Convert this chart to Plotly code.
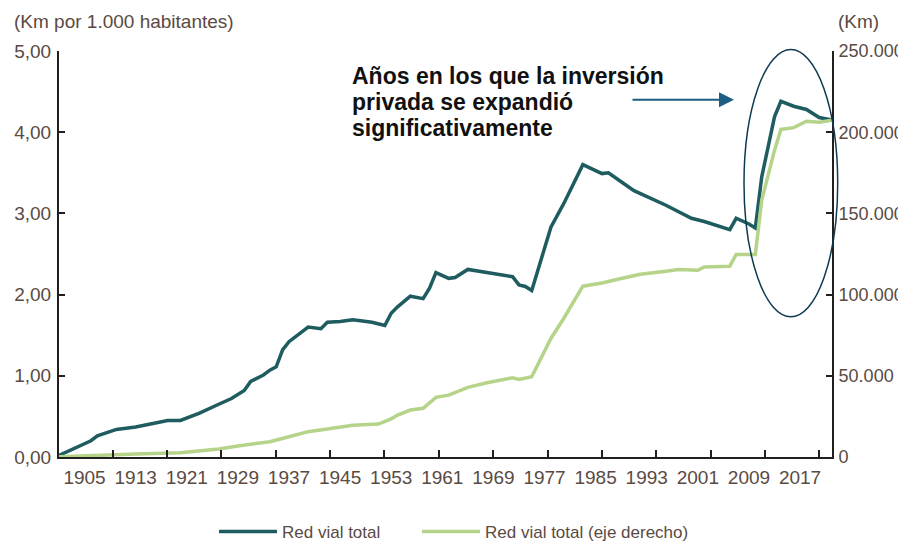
import plotly.graph_objects as go

# ---- data ----
years_dark = [1901, 1903, 1906, 1907, 1910, 1913, 1915, 1918, 1920, 1923, 1926, 1928,
              1930, 1931, 1933, 1934, 1935, 1936, 1937, 1939, 1940, 1942, 1943, 1945,
              1947, 1950, 1952, 1953, 1954, 1956, 1958, 1959, 1960, 1962, 1963, 1965,
              1972, 1973, 1974, 1975, 1978, 1980, 1983, 1986, 1987, 1989, 1991, 1996,
              1997, 2000, 2002, 2006, 2007, 2009, 2010, 2011, 2013, 2014, 2016, 2018,
              2020, 2022]
km_per_1000 = [0.02, 0.09, 0.20, 0.26, 0.34, 0.37, 0.40, 0.45, 0.45, 0.54, 0.65, 0.72,
               0.82, 0.93, 1.01, 1.07, 1.11, 1.32, 1.42, 1.54, 1.60, 1.58, 1.66, 1.67,
               1.69, 1.66, 1.62, 1.77, 1.85, 1.98, 1.95, 2.08, 2.27, 2.20, 2.21, 2.31,
               2.22, 2.12, 2.10, 2.05, 2.83, 3.12, 3.60, 3.49, 3.50, 3.39, 3.28, 3.10,
               3.06, 2.94, 2.90, 2.80, 2.94, 2.87, 2.82, 3.45, 4.19, 4.38, 4.32, 4.28,
               4.18, 4.15]

years_green = [1901, 1907, 1913, 1920, 1923, 1926, 1929, 1932, 1934, 1937, 1939, 1940,
               1943, 1947, 1951, 1953, 1954, 1956, 1958, 1960, 1962, 1965, 1968, 1972,
               1973, 1975, 1978, 1980, 1983, 1986, 1989, 1992, 1996, 1998, 2001, 2002,
               2006, 2007, 2010, 2011, 2013, 2014, 2016, 2018, 2020, 2022]
km_total = [200, 1200, 1800, 2600, 3700, 4900, 6800, 8400, 9400, 12500, 14600, 15600,
            17200, 19500, 20300, 23500, 25800, 28900, 30000, 36700, 38100, 42900, 45700, 48800,
            47800, 49400, 73000, 85300, 105200, 107200, 109900, 112500, 114400, 115400, 115000, 117000,
            117500, 124700, 124700, 158000, 188800, 201700, 202800, 206800, 206200, 207300]

label_years = list(range(1905, 2018, 8))
left_ticks = [0, 1, 2, 3, 4, 5]
right_ticks = [0, 50000, 100000, 150000, 200000, 250000]

name_dark = "Red vial total"
name_green = "Red vial total (eje derecho)"
note_lines = ["Años en los que la inversión", "privada se expandió", "significativamente"]

# ---- styling ----
DARK = "#1f5c60"
GREEN = "#b5d48a"
AXIS = "#231f20"
TXT = "#5a4a42"
SANS = "Liberation Sans, Arial, sans-serif"
FS = 19

OFF = 8                      # page body margin
W, H = 906 - OFF, 543 - OFF  # figure fills the rest of the window
# plot area in window pixels
PX0, PX1, PY0, PY1 = 59, 832, 50.5, 457
L, R = PX0 - OFF, W - (PX1 - OFF)
T, B = PY0 - OFF, H - (PY1 - OFF)
pw, ph = PX1 - PX0, PY1 - PY0

# x tick marks of the reference sit on their own 8.5-year spacing
tick_marks = [1909.41 + 8.508 * k for k in range(14)]


def px(xp):
    return (xp - PX0) / pw


def py(yp):
    return (PY1 - yp) / ph


fig = go.Figure()
fig.add_trace(go.Scatter(x=years_green, y=km_total, name=name_green, mode="lines",
                         line=dict(color=GREEN, width=3.5), xaxis="x2", yaxis="y2",
                         legend="legend2"))
fig.add_trace(go.Scatter(x=years_dark, y=km_per_1000, name=name_dark, mode="lines",
                         line=dict(color=DARK, width=3.5), legend="legend"))

legend_common = dict(orientation="h", yanchor="middle", xanchor="left",
                     font=dict(family=SANS, size=17, color=TXT), itemwidth=58,
                     bgcolor="rgba(0,0,0,0)")

fig.update_layout(
    width=W, height=H,
    margin=dict(l=L, r=R, t=T, b=B, autoexpand=False),
    paper_bgcolor="white", plot_bgcolor="white",
    separators=",.",
    font=dict(family=SANS, size=FS, color=TXT),
    # axis carrying the tick marks
    xaxis=dict(range=[1901, 2022], tickmode="array", tickvals=tick_marks,
               ticktext=["" for _ in tick_marks],
               ticks="inside", ticklen=7, tickwidth=2, tickcolor=AXIS, showticklabels=False,
               showgrid=False, zeroline=False, showline=True, linecolor=AXIS, linewidth=2,
               layer="above traces"),
    # overlaid axis carrying the year labels
    xaxis2=dict(range=[1901, 2022], overlaying="x", anchor="y2", side="bottom",
                tickvals=label_years, ticktext=[str(v) for v in label_years], ticks="",
                showgrid=False, zeroline=False, showline=False, ticklabelstandoff=7,
                tickfont=dict(family=SANS, size=FS, color=TXT)),
    yaxis=dict(range=[0, 5], tickvals=left_ticks, tickformat=".2f", ticks="inside", ticklen=6,
               tickwidth=2, tickcolor=AXIS, showgrid=False, zeroline=False, showline=True,
               linecolor=AXIS, linewidth=2, ticklabelstandoff=2,
               tickfont=dict(family=SANS, size=FS, color=TXT)),
    yaxis2=dict(range=[0, 250000], tickvals=right_ticks, tickformat=",.0f", overlaying="y",
                anchor="x2", side="right", ticks="inside", ticklen=6, tickwidth=2, tickcolor=AXIS,
                showgrid=False, zeroline=False, showline=True, linecolor=AXIS, linewidth=2,
                ticklabelstandoff=1, tickfont=dict(family=SANS, size=18, color=TXT)),
    showlegend=True,
    legend=dict(x=px(214), y=py(532), **legend_common),
    legend2=dict(x=px(417), y=py(532), **legend_common),
)

ann = [
    dict(text="(Km por 1.000 habitantes)", x=px(12), y=py(20.5), xref="paper", yref="paper",
         xanchor="left", yanchor="middle", showarrow=False,
         font=dict(family=SANS, size=FS, color=TXT)),
    dict(text="(Km)", x=px(836), y=py(20.5), xref="paper", yref="paper",
         xanchor="left", yanchor="middle", showarrow=False,
         font=dict(family=SANS, size=FS, color=TXT)),
]
for i, line in enumerate(note_lines):
    ann.append(dict(text="<b>" + line + "</b>", x=px(350), y=py(76 + 25.8 * i),
                    xref="paper", yref="paper", xanchor="left", yanchor="middle",
                    showarrow=False, font=dict(family=SANS, size=23, color="#111111")))
ann.append(dict(text="", x=px(734), y=py(99.3), xref="paper", yref="paper",
                ax=-103, ay=0, showarrow=True, arrowhead=2, arrowsize=1.5, arrowwidth=2,
                arrowcolor="#1d5e82"))
fig.update_layout(annotations=ann)

fig.add_shape(type="circle", xref="paper", yref="paper",
              x0=px(744), x1=px(837.7), y0=py(316.7), y1=py(49),
              line=dict(color="#0e3a52", width=1.5))

fig.write_html("out.html")
